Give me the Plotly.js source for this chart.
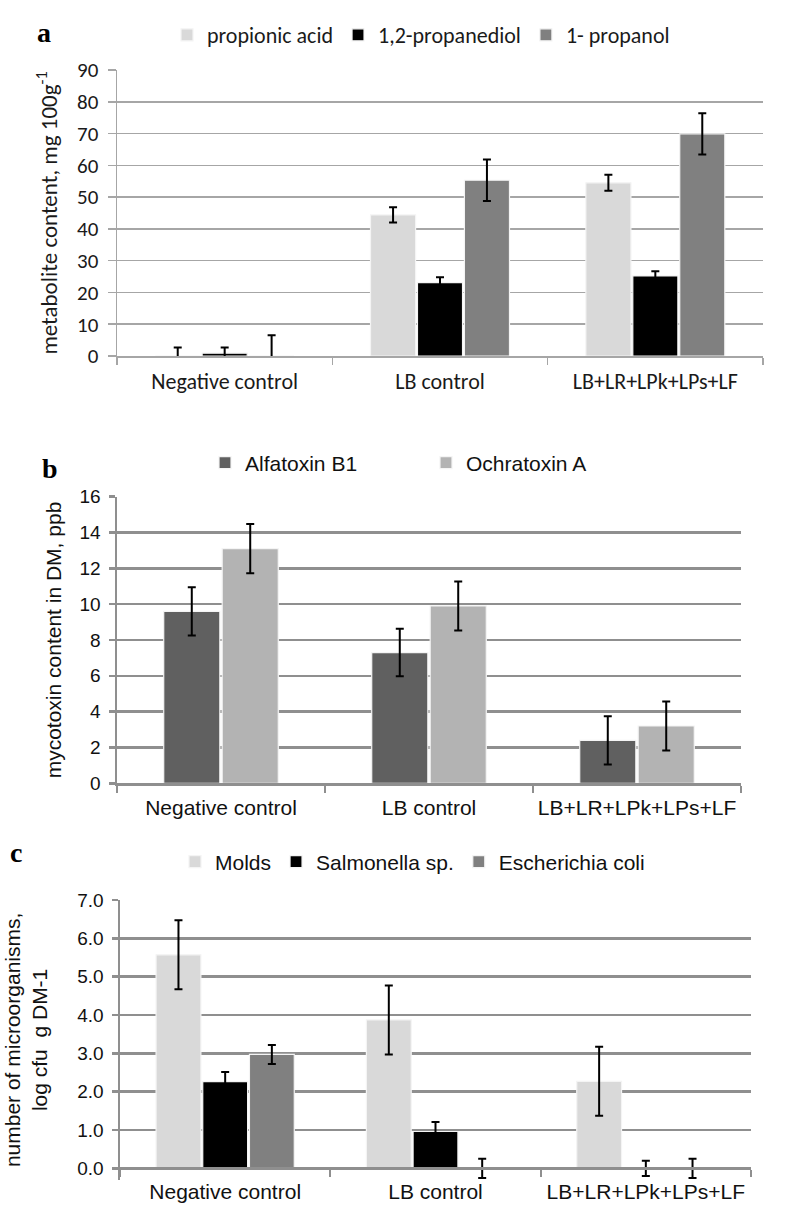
<!DOCTYPE html>
<html>
<head>
<meta charset="utf-8">
<script src="https://cdn.plot.ly/plotly-3.0.1.min.js"></script>
<style>html,body{margin:0;padding:0;background:#fff;}#chart{width:786px;height:1207px;}</style>
</head>
<body>
<div id="chart"></div>
<script>
// ---- data ----
var categories = ['Negative control', 'LB control', 'LB+LR+LPk+LPs+LF'];

// panel a: metabolite content, mg 100g-1
var propionicAcid = [0, 44.4, 54.5];
var propionicAcidErr = [2.7, 2.4, 2.5];
var propanediol = [0.9, 23.1, 25.2];
var propanediolErr = [1.8, 1.7, 1.5];
var propanol = [0, 55.3, 69.9];
var propanolErr = [6.5, 6.5, 6.5];

// panel b: mycotoxin content in DM, ppb
var alfatoxinB1 = [9.6, 7.3, 2.4];
var alfatoxinB1Err = [1.35, 1.33, 1.35];
var ochratoxinA = [13.1, 9.9, 3.2];
var ochratoxinAErr = [1.37, 1.37, 1.37];

// panel c: number of microorganisms, log cfu g DM-1
var molds = [5.57, 3.87, 2.27];
var moldsErr = [0.9, 0.9, 0.9];
var salmonella = [2.26, 0.96, 0];
var salmonellaErr = [0.25, 0.25, 0.2];
var ecoli = [2.97, 0, 0];
var ecoliErr = [0.25, 0.25, 0.25];

// ---- styling helpers ----
var W = 786, H = 1207;
function px(x) { return x / W; }
function py(y) { return 1 - y / H; }

var fontA = 'Carlito, Lato, "Open Sans", sans-serif';
var fontB = '"Liberation Sans", Arial, sans-serif';
var serif = '"Liberation Serif", "Times New Roman", serif';
var nb = '\u00a0';

function barTrace(name, y, err, color, xa, ya, legend, step, idx, n, capW) {
  var w = step * 0.96;
  var offset = -n * step / 2 + idx * step + (step - w) / 2;
  return {
    type: 'bar', name: name, x: categories, y: y,
    xaxis: xa, yaxis: ya, legend: legend,
    width: w, offset: offset,
    marker: {color: color, line: {color: '#f4f4f4', width: 1.2}},
    error_y: {type: 'data', array: err, visible: true, color: '#000', thickness: 2, width: capW},
    hoverinfo: 'skip'
  };
}

var data = [
  barTrace('propionic acid', propionicAcid, propionicAcidErr, '#d9d9d9', 'x', 'y', 'legend', 0.218, 0, 3, 4),
  barTrace('1,2-propanediol', propanediol, propanediolErr, '#000000', 'x', 'y', 'legend', 0.218, 1, 3, 4),
  barTrace('1- propanol', propanol, propanolErr, '#808080', 'x', 'y', 'legend', 0.218, 2, 3, 4),

  barTrace('Alfatoxin B1', alfatoxinB1, alfatoxinB1Err, '#606060', 'x2', 'y2', 'legend2', 0.281, 0, 2, 4),
  barTrace('Ochratoxin A', ochratoxinA, ochratoxinAErr, '#b3b3b3', 'x2', 'y2', 'legend2', 0.281, 1, 2, 4),

  barTrace('Molds', molds, moldsErr, '#d9d9d9', 'x3', 'y3', 'legend3', 0.222, 0, 3, 4),
  barTrace('Salmonella sp.', salmonella, salmonellaErr, '#000000', 'x3', 'y3', 'legend3', 0.222, 1, 3, 4),
  barTrace('Escherichia coli', ecoli, ecoliErr, '#808080', 'x3', 'y3', 'legend3', 0.222, 2, 3, 4)
];

var gridA = '#a6a6a6', gridB = '#8f8f8f';

var layout = {
  width: W, height: H,
  margin: {l: 0, r: 0, t: 0, b: 0},
  paper_bgcolor: '#fff', plot_bgcolor: '#fff',
  barmode: 'overlay',
  showlegend: true,
  // panel a
  xaxis: {
    domain: [px(117), px(763)], anchor: 'y', type: 'category', tickangle: 0,
    showline: true, linecolor: gridA, linewidth: 1.5,
    ticks: 'outside', tickson: 'boundaries', ticklen: 7, tickcolor: gridA, tickwidth: 1.5,
    ticklabelstandoff: 5,
    tickfont: {family: fontA, size: 22, color: '#1a1a1a'}, showgrid: false, fixedrange: true
  },
  yaxis: {
    domain: [py(356), py(70)], anchor: 'x', range: [0, 90], dtick: 10,
    showgrid: true, gridcolor: gridA, gridwidth: 1.5,
    showline: true, linecolor: gridA, linewidth: 1.5, zeroline: false,
    ticks: 'outside', ticklen: 8, tickcolor: gridA, tickwidth: 1.5, ticklabelstandoff: 5,
    tickfont: {family: fontA, size: 21, color: '#1a1a1a'},
    title: {text: nb + nb + nb + nb + nb + 'metabolite content, mg 100g<sup>-1</sup>', font: {family: fontA, size: 23, color: '#1a1a1a'}, standoff: 13},
    fixedrange: true
  },
  // panel b
  xaxis2: {
    domain: [px(117), px(741)], anchor: 'y2', type: 'category', tickangle: 0,
    showline: true, linecolor: gridB, linewidth: 2.5,
    ticks: 'outside', tickson: 'boundaries', ticklen: 7, tickcolor: gridB, tickwidth: 2,
    ticklabelstandoff: 4,
    tickfont: {family: fontB, size: 21, color: '#111'}, showgrid: false, fixedrange: true
  },
  yaxis2: {
    domain: [py(783.3), py(496.7)], anchor: 'x2', range: [0, 16], dtick: 2,
    showgrid: true, gridcolor: gridB, gridwidth: 2.5,
    showline: true, linecolor: gridB, linewidth: 2.5, zeroline: false,
    ticks: 'outside', ticklen: 6, tickcolor: gridB, tickwidth: 2.5, ticklabelstandoff: 4,
    tickfont: {family: fontB, size: 19, color: '#111'},
    title: {text: 'mycotoxin content in DM, ppb', font: {family: fontB, size: 21, color: '#111'}, standoff: 12},
    fixedrange: true
  },
  // panel c
  xaxis3: {
    domain: [px(120), px(751)], anchor: 'free', position: py(1168.3), type: 'category', tickangle: 0,
    showline: true, linecolor: gridB, linewidth: 2.5,
    ticks: 'outside', tickson: 'boundaries', ticklen: 7, tickcolor: gridB, tickwidth: 2,
    ticklabelstandoff: 4,
    tickfont: {family: fontB, size: 21, color: '#111'}, showgrid: false, fixedrange: true
  },
  yaxis3: {
    domain: [py(1179.8), py(900)], anchor: 'x3', range: [-0.3, 7], tickvals: [0, 1, 2, 3, 4, 5, 6, 7],
    tickformat: '.1f',
    showgrid: true, gridcolor: gridB, gridwidth: 2.5,
    showline: true, linecolor: gridB, linewidth: 2.5, zeroline: false,
    ticks: 'outside', ticklen: 6, tickcolor: gridB, tickwidth: 2.5, ticklabelstandoff: 4,
    tickfont: {family: fontB, size: 19, color: '#111'},
    title: {text: 'number of microorganisms,<br>log cfu' + nb + ' g DM-1', font: {family: fontB, size: 21, color: '#111'}, standoff: 24},
    fixedrange: true
  },
  legend: {
    orientation: 'h', x: px(167), y: py(35), xanchor: 'left', yanchor: 'middle',
    font: {family: fontA, size: 22, color: '#1a1a1a'}, bgcolor: 'rgba(0,0,0,0)', itemclick: false, itemdoubleclick: false
  },
  legend2: {
    orientation: 'h', x: px(205), y: py(463), xanchor: 'left', yanchor: 'middle',
    entrywidth: 176, entrywidthmode: 'pixels',
    font: {family: fontB, size: 21, color: '#111'}, bgcolor: 'rgba(0,0,0,0)', itemclick: false, itemdoubleclick: false
  },
  legend3: {
    orientation: 'h', x: px(175), y: py(862), xanchor: 'left', yanchor: 'middle',
    font: {family: fontB, size: 21, color: '#111'}, bgcolor: 'rgba(0,0,0,0)', itemclick: false, itemdoubleclick: false
  },
  annotations: [
    {text: '<b>a</b>', xref: 'paper', yref: 'paper', x: px(44), y: py(33), xanchor: 'center', yanchor: 'middle', showarrow: false, font: {family: serif, size: 28, color: '#000'}},
    {text: '<b>b</b>', xref: 'paper', yref: 'paper', x: px(50), y: py(468), xanchor: 'center', yanchor: 'middle', showarrow: false, font: {family: serif, size: 28, color: '#000'}},
    {text: '<b>c</b>', xref: 'paper', yref: 'paper', x: px(16), y: py(852), xanchor: 'center', yanchor: 'middle', showarrow: false, font: {family: serif, size: 28, color: '#000'}}
  ]
};

Plotly.newPlot('chart', data, layout, {displayModeBar: false, staticPlot: true});
</script>
</body>
</html>
